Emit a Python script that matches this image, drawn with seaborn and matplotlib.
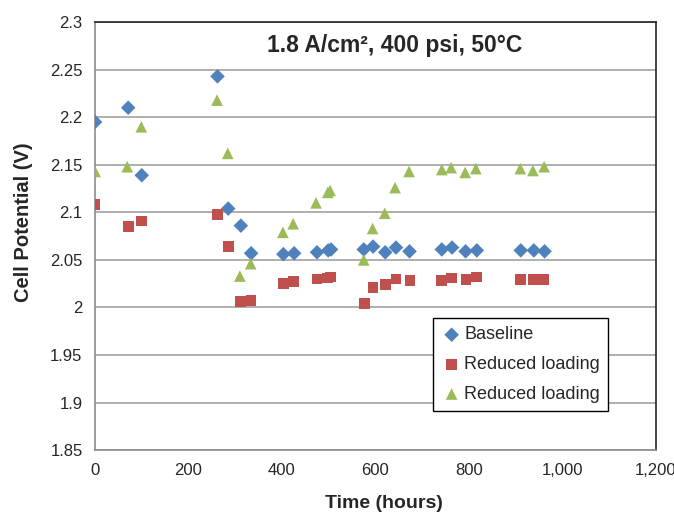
import pandas as pd
import seaborn as sns
import matplotlib.pyplot as plt

# time (hours) and cell potential (V)
time_base = [0, 71, 100, 262, 285, 312, 334, 403, 426, 475, 499, 505,
             575, 595, 621, 644, 673, 742, 764, 793, 817, 911, 939, 962]
v_base = [2.195, 2.210, 2.139, 2.243, 2.104, 2.086, 2.057, 2.056, 2.057, 2.058, 2.060, 2.061,
          2.061, 2.064, 2.058, 2.063, 2.059, 2.061, 2.063, 2.059, 2.060, 2.060, 2.060, 2.059]

time_red = [0, 71, 100, 262, 285, 312, 334, 403, 425, 475, 498, 504,
            576, 595, 622, 644, 674, 742, 762, 794, 816, 911, 938, 961]
v_red = [2.108, 2.085, 2.091, 2.098, 2.064, 2.006, 2.007, 2.025, 2.027, 2.030, 2.031, 2.032,
         2.004, 2.021, 2.024, 2.030, 2.028, 2.028, 2.031, 2.029, 2.032, 2.029, 2.029, 2.029]

time_green = [0, 69, 99, 261, 284, 310, 333, 402, 424, 473, 498, 503,
              575, 594, 620, 642, 672, 742, 762, 792, 815, 910, 937, 961]
v_green = [2.143, 2.148, 2.190, 2.218, 2.162, 2.033, 2.046, 2.079, 2.088, 2.110, 2.121, 2.123,
           2.050, 2.083, 2.099, 2.126, 2.143, 2.145, 2.147, 2.142, 2.146, 2.146, 2.144, 2.148]

series = [
    ('Baseline', time_base, v_base, 'D', '#4F81BD', 55),
    ('Reduced loading', time_red, v_red, 's', '#C0504D', 60),
    ('Reduced loading', time_green, v_green, '^', '#9BBB59', 70),
]

sns.set_style('white')
plt.rcParams['font.family'] = ['Liberation Sans', 'DejaVu Sans']

fig = plt.figure(figsize=(6.74, 5.15), dpi=100)
ax = fig.add_axes([0.141, 0.126, 0.832, 0.831])

for name, t, v, mk, col, sz in series:
    df = pd.DataFrame({'t': t, 'v': v})
    sns.scatterplot(data=df, x='t', y='v', marker=mk, color=col, s=sz,
                    edgecolor='none', label=name, ax=ax, zorder=3)

ax.set_xlim(0, 1200)
ax.set_ylim(1.85, 2.3)
ax.set_xticks(range(0, 1201, 200))
ax.set_xticklabels(['0', '200', '400', '600', '800', '1,000', '1,200'])
yt = [1.85 + 0.05 * i for i in range(10)]
ax.set_yticks(yt)
ax.set_yticklabels(['1.85', '1.9', '1.95', '2', '2.05', '2.1', '2.15', '2.2', '2.25', '2.3'])
ax.yaxis.grid(True, color='#9a9a9a', linewidth=1.1)
ax.xaxis.grid(False)

for s in ['left', 'bottom']:
    ax.spines[s].set_color('#8c8c8c')
    ax.spines[s].set_linewidth(1.2)
for s in ['top', 'right']:
    ax.spines[s].set_color('#222222')
    ax.spines[s].set_linewidth(1.2)

ax.tick_params(axis='both', direction='out', length=5, width=1, color='#8c8c8c',
               labelsize=12, pad=4)

ax.set_xlabel('Time (hours)', fontsize=14, fontweight='bold')
ax.xaxis.set_label_coords(0.515, -0.105)
ax.set_ylabel('Cell Potential (V)', fontsize=14.5, fontweight='bold')
ax.yaxis.set_label_coords(-0.111, 0.533)

ax.text(0.535, 0.946, '1.8 A/cm², 400 psi, 50°C', transform=ax.transAxes,
        ha='center', va='center', fontsize=16.5, fontweight='bold')

leg = ax.legend(loc='upper left', bbox_to_anchor=(0.586, 0.329), fontsize=13,
                frameon=True, fancybox=False, edgecolor='black', framealpha=1,
                handletextpad=0.1, borderpad=0.45, labelspacing=0.7, handlelength=1.2)
leg.get_frame().set_linewidth(1.0)

fig.savefig('out.png', dpi=100)
